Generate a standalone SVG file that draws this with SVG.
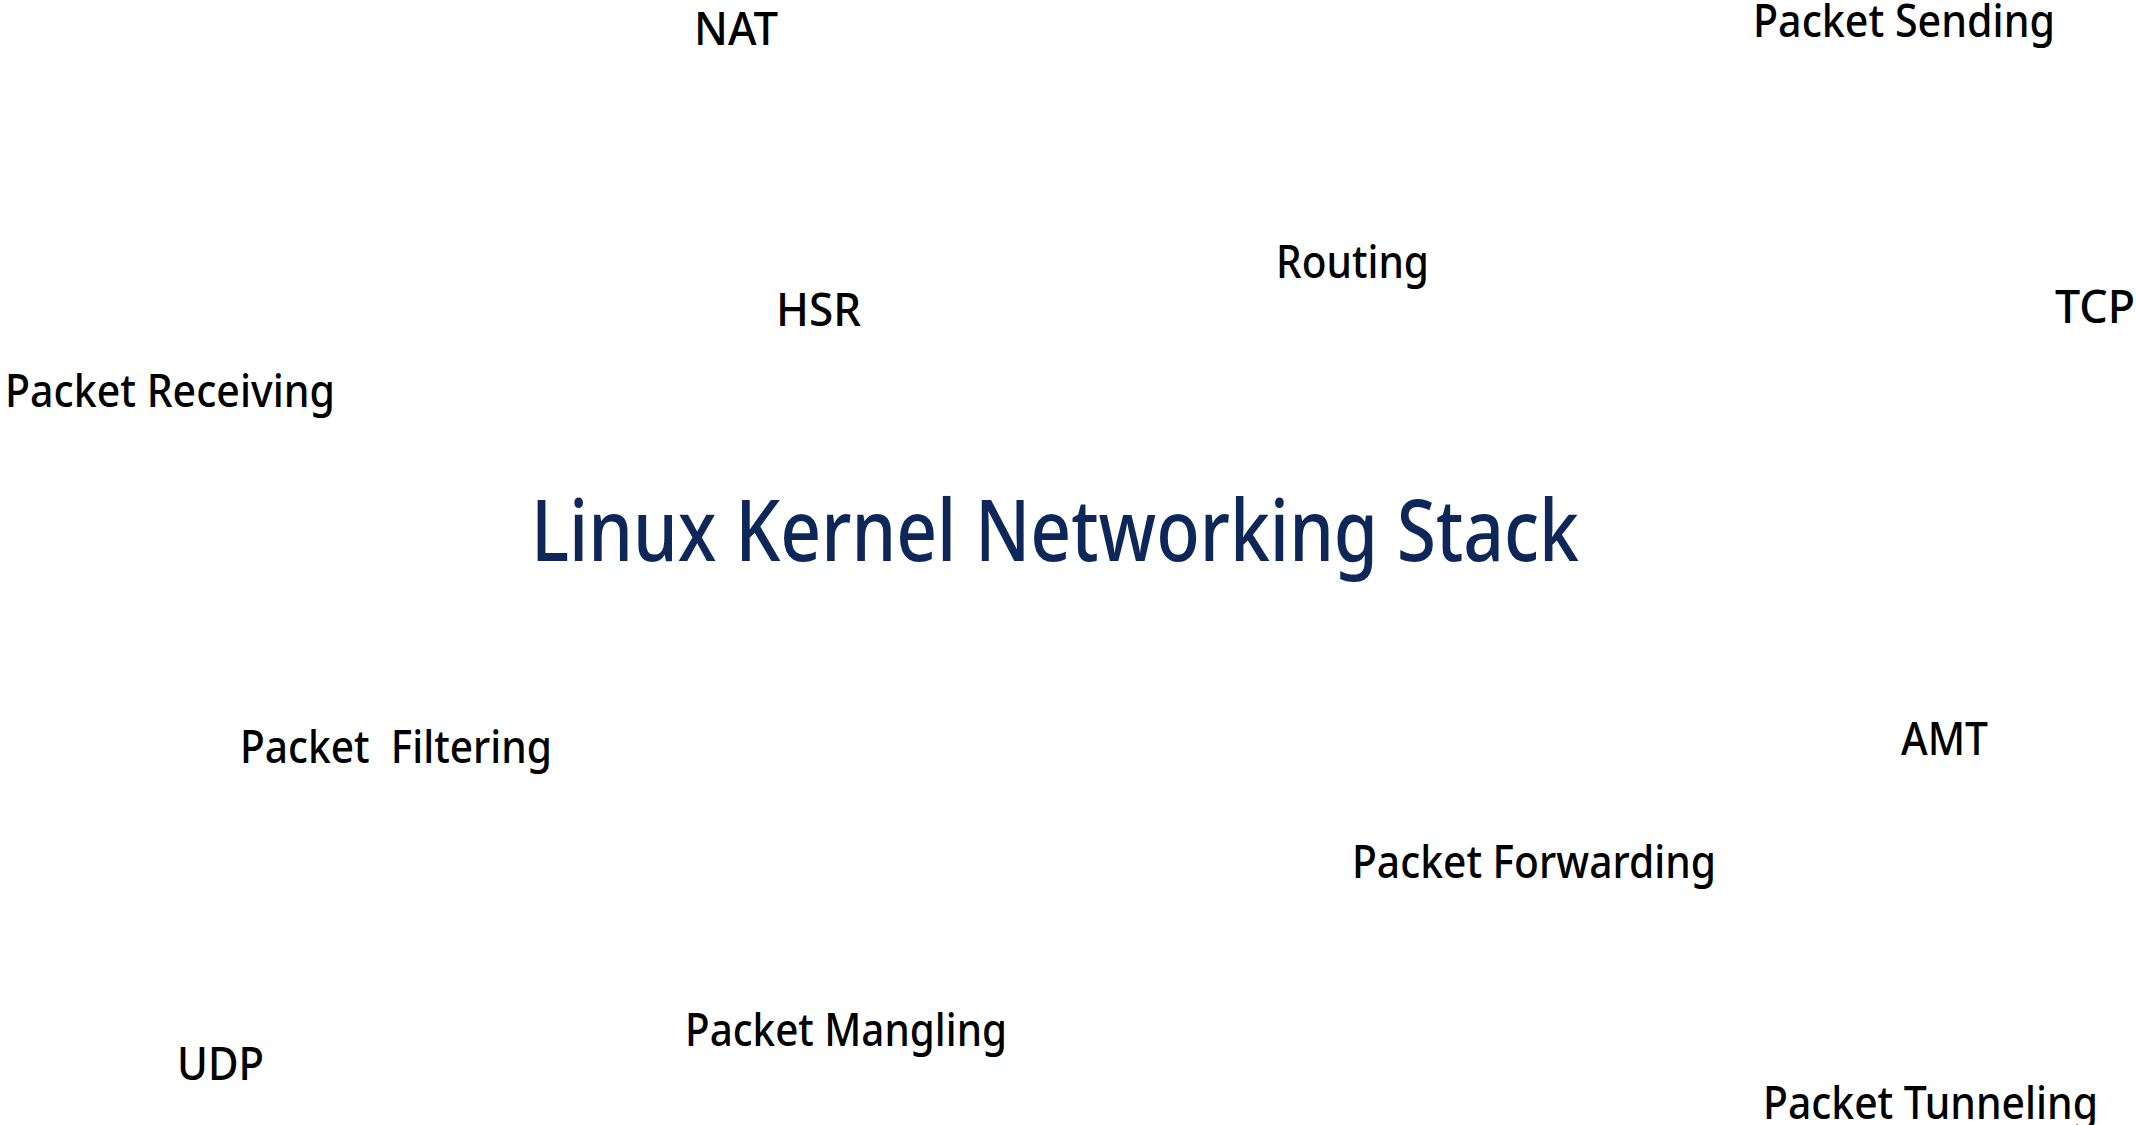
<svg xmlns="http://www.w3.org/2000/svg" width="2136" height="1125" viewBox="0 0 2136 1125">
<style>
text{font-family:"Noto Sans","Open Sans","Liberation Sans",sans-serif;white-space:pre;font-weight:500}
.lbl{font-size:46px;fill:#000}
.title{font-size:86px;fill:#0e2759}
</style>
<rect width="2136" height="1125" fill="#ffffff"/>
<g id="connectors"/>
<g id="title"><text class="title" x="531" y="561" textLength="1048" lengthAdjust="spacingAndGlyphs">Linux Kernel Networking Stack</text></g>
<g id="nat"><text class="lbl" x="694" y="45" textLength="84" lengthAdjust="spacingAndGlyphs">NAT</text></g>
<g id="packet-sending"><text class="lbl" x="1753" y="37" textLength="302" lengthAdjust="spacingAndGlyphs">Packet Sending</text></g>
<g id="routing"><text class="lbl" x="1276" y="278" textLength="153" lengthAdjust="spacingAndGlyphs">Routing</text></g>
<g id="hsr"><text class="lbl" x="776" y="326" textLength="85" lengthAdjust="spacingAndGlyphs">HSR</text></g>
<g id="tcp"><text class="lbl" x="2055" y="323" textLength="80" lengthAdjust="spacingAndGlyphs">TCP</text></g>
<g id="packet-receiving"><text class="lbl" x="5" y="407" textLength="330" lengthAdjust="spacingAndGlyphs">Packet Receiving</text></g>
<g id="packet-filtering"><text class="lbl" x="240" y="763" textLength="312" lengthAdjust="spacingAndGlyphs">Packet  Filtering</text></g>
<g id="amt"><text class="lbl" x="1901" y="755" textLength="87" lengthAdjust="spacingAndGlyphs">AMT</text></g>
<g id="packet-forwarding"><text class="lbl" x="1352" y="878" textLength="364" lengthAdjust="spacingAndGlyphs">Packet Forwarding</text></g>
<g id="packet-mangling"><text class="lbl" x="685" y="1046" textLength="322" lengthAdjust="spacingAndGlyphs">Packet Mangling</text></g>
<g id="udp"><text class="lbl" x="177" y="1080" textLength="87" lengthAdjust="spacingAndGlyphs">UDP</text></g>
<g id="packet-tunneling"><text class="lbl" x="1763" y="1119" textLength="335" lengthAdjust="spacingAndGlyphs">Packet Tunneling</text></g>
</svg>
